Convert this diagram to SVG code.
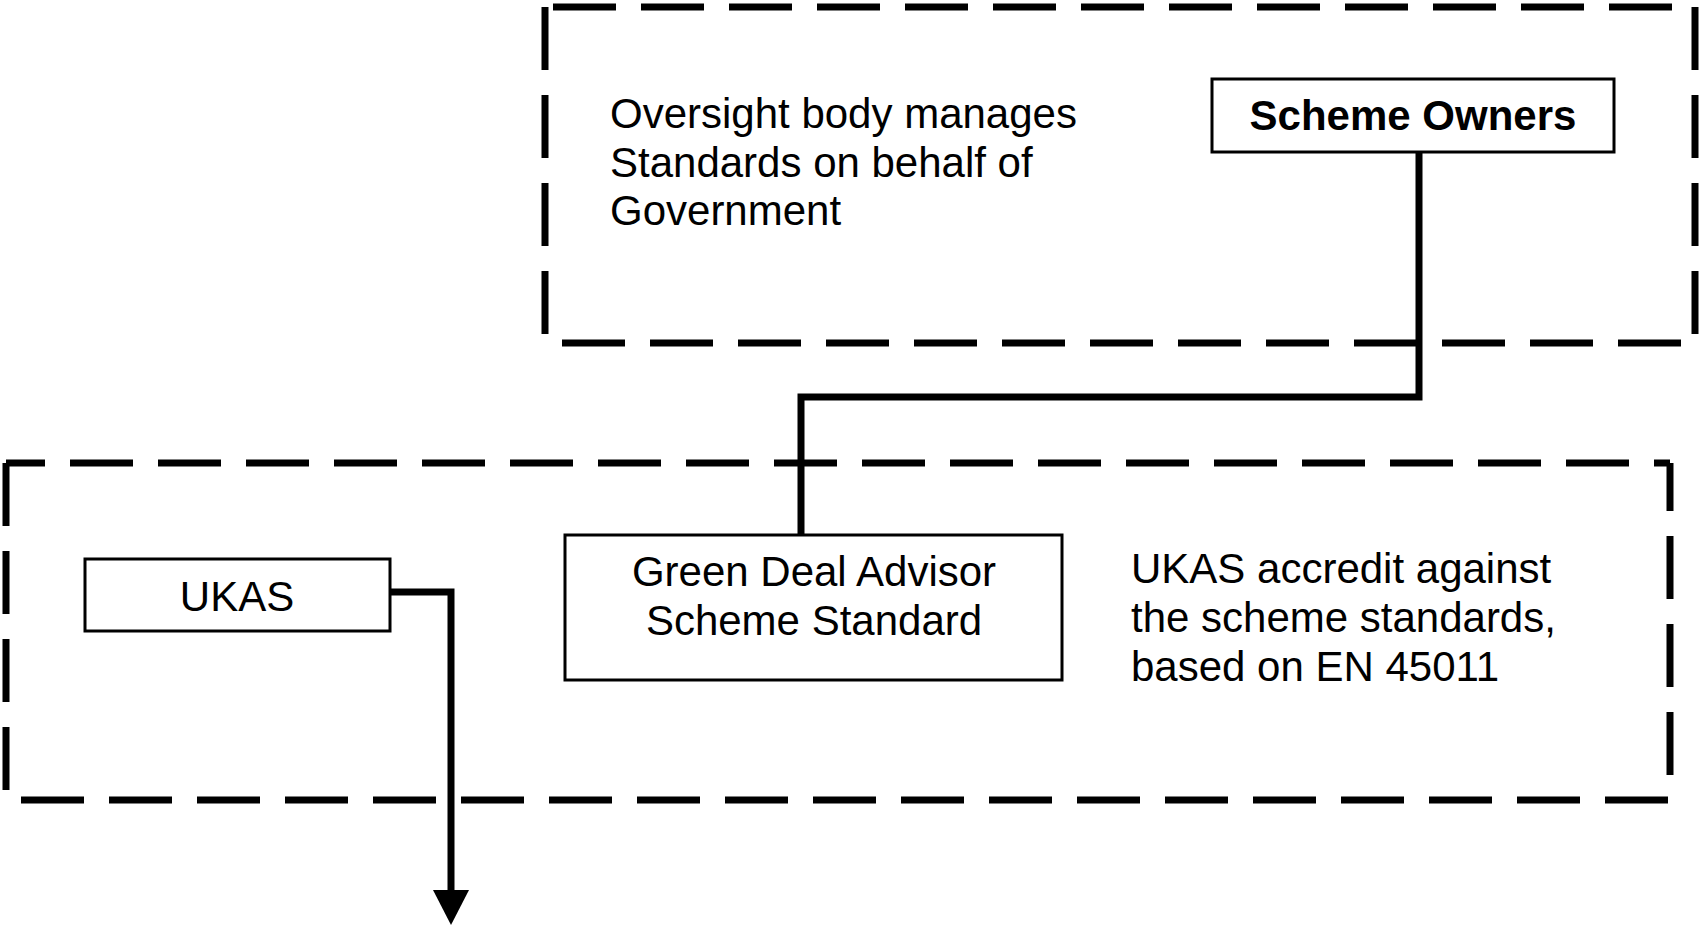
<svg xmlns="http://www.w3.org/2000/svg" width="1700" height="927" viewBox="0 0 1700 927">
<style>
.zone line{fill:none;stroke:#000;stroke-width:7;stroke-dasharray:63 25}
.box{fill:#fff;stroke:#000;stroke-width:3}
.t{font-family:"Liberation Sans",Arial,sans-serif;font-size:42px;fill:#000}
.b{font-weight:bold}
.c{text-anchor:middle}
.conn{fill:none;stroke:#000;stroke-width:7;stroke-linejoin:miter}
</style>
<rect width="1700" height="927" fill="#fff"/>
<g id="zone-oversight" class="zone">
<line x1="545" y1="7" x2="1695" y2="7" stroke-dashoffset="80"/>
<line x1="545" y1="7" x2="545" y2="343"/>
<line x1="1695" y1="7" x2="1695" y2="343"/>
<line x1="545" y1="343" x2="1695" y2="343" stroke-dashoffset="71"/>
<text class="t" x="610" y="128">Oversight body manages</text>
<text class="t" x="610" y="177">Standards on behalf of</text>
<text class="t" x="610" y="225">Government</text>
</g>
<g id="zone-ukas" class="zone">
<line x1="6" y1="463" x2="1670" y2="463" stroke-dashoffset="24"/>
<line x1="6" y1="463" x2="6" y2="800"/>
<line x1="1670" y1="463" x2="1670" y2="800" stroke-dashoffset="15"/>
<line x1="6" y1="800" x2="1670" y2="800" stroke-dashoffset="73"/>
<text class="t" x="1131" y="583">UKAS accredit against</text>
<text class="t" x="1131" y="632">the scheme standards,</text>
<text class="t" x="1131" y="681">based on EN 45011</text>
</g>
<g id="connectors">
<polyline class="conn" points="1419,152 1419,397 801,397 801,534"/>
<polyline class="conn" points="390,592 451,592 451,890"/>
<path d="M433,890 L469,890 L451,925 Z" fill="#000"/>
</g>
<g id="node-scheme-owners">
<rect class="box" x="1212" y="79" width="402" height="73"/>
<text class="t b c" x="1413" y="130">Scheme Owners</text>
</g>
<g id="node-ukas">
<rect class="box" x="85" y="559" width="305" height="72"/>
<text class="t c" x="237" y="611">UKAS</text>
</g>
<g id="node-green-deal">
<rect class="box" x="565" y="535" width="497" height="145"/>
<text class="t c" x="814" y="586">Green Deal Advisor</text>
<text class="t c" x="814" y="635">Scheme Standard</text>
</g>
</svg>
